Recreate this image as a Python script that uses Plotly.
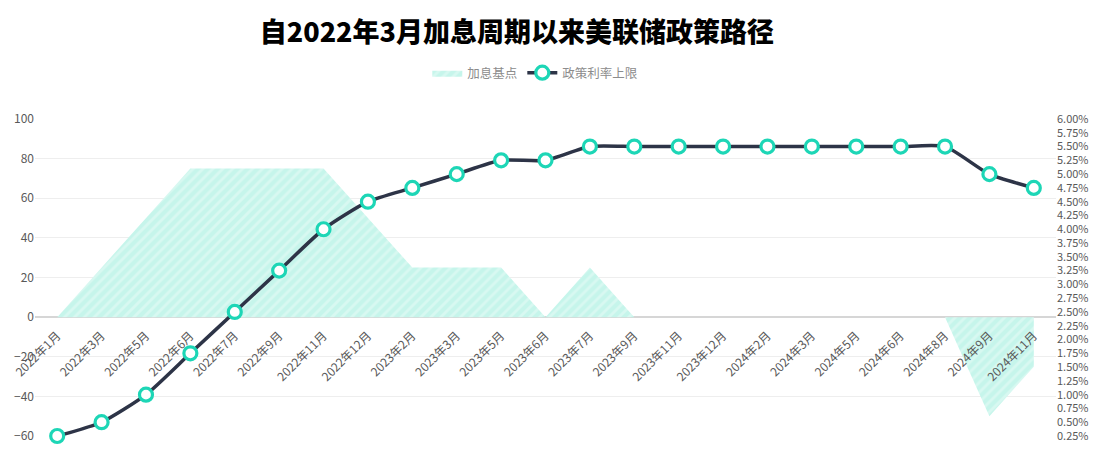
import plotly.graph_objects as go

months = ["2022年1月", "2022年3月", "2022年5月", "2022年6月", "2022年7月", "2022年9月",
          "2022年11月", "2022年12月", "2023年2月", "2023年3月", "2023年5月", "2023年6月",
          "2023年7月", "2023年9月", "2023年11月", "2023年12月", "2024年2月", "2024年3月",
          "2024年5月", "2024年6月", "2024年8月", "2024年9月", "2024年11月"]

# 加息基点 (bp, left axis)
hike_bp = [0, 25, 50, 75, 75, 75, 75, 50, 25, 25, 25, 0,
           25, 0, 0, 0, 0, 0, 0, 0, 0, -50, -25]

# 政策利率上限 (%, right axis)
rate_cap = [0.25, 0.50, 1.00, 1.75, 2.50, 3.25, 4.00, 4.50, 4.75, 5.00, 5.25, 5.25,
            5.50, 5.50, 5.50, 5.50, 5.50, 5.50, 5.50, 5.50, 5.50, 5.00, 4.75]

font_cn = "Noto Sans CJK SC"

fig = go.Figure()

fig.add_trace(go.Scatter(
    x=months, y=hike_bp, name="加息基点", mode="lines",
    fill="tozeroy", line=dict(width=0, color="#c9f5ec"),
    fillcolor="#c9f5ec",
    fillpattern=dict(shape="/", bgcolor="#c6f5eb", fgcolor="#e9fcf8",
                     size=7, solidity=0.4),
    yaxis="y"))

fig.add_trace(go.Scatter(
    x=months, y=rate_cap, name="政策利率上限", mode="lines+markers",
    line=dict(color="#2d3447", width=3.5, shape="spline", smoothing=0.6),
    marker=dict(size=13, color="white", line=dict(color="#1dd6b6", width=3.2)),
    cliponaxis=False, yaxis="y2"))

# the page body has an 8px margin, so the figure is sized 8px smaller
fig.update_layout(
    width=1092, height=447,
    margin=dict(l=27, r=44, t=111, b=19),
    paper_bgcolor="white", plot_bgcolor="white",
    font=dict(family=font_cn, color="#595959", size=11),
    title=dict(text="自2022年3月加息周期以来美联储政策路径",
               x=0.466, xanchor="center", y=0.944, yanchor="middle",
               font=dict(size=27, color="#000000", family=font_cn, weight=900)),
    legend=dict(orientation="h", x=0.49, xanchor="center", y=1.145, yanchor="middle",
                font=dict(size=12.5, color="#8c8c8c", family=font_cn),
                itemwidth=30),
    showlegend=True,
    xaxis=dict(type="category", range=[-0.5, 22.5], automargin=False,
               tickmode="array", tickvals=months, ticktext=months,
               tickangle=-45, showgrid=False, showline=False,
               ticks="outside", ticklen=6, tickcolor="rgba(0,0,0,0)",
               anchor="free", position=0.375,
               tickfont=dict(size=12, color="#595959")),
    yaxis=dict(range=[-60, 100], dtick=20, showgrid=True, gridcolor="#eeeeee",
               zeroline=True, zerolinecolor="#d6d6d6", zerolinewidth=1.5,
               automargin=False,
               showline=False, ticks="", tickfont=dict(size=12, color="#595959")),
    yaxis2=dict(range=[0.25, 6.0], dtick=0.25, tick0=0.25, overlaying="y",
                side="right", showgrid=False, zeroline=False, showline=False,
                automargin=False,
                tickformat=".2f", ticksuffix="%", ticks="",
                tickfont=dict(size=11, color="#595959")),
)

fig.write_html("out.html")
